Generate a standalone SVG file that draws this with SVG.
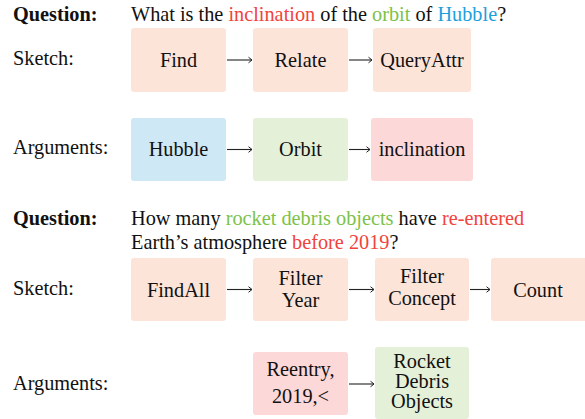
<svg xmlns="http://www.w3.org/2000/svg" width="585" height="419" viewBox="0 0 585 419">
<style>
text{font-family:'Liberation Serif',serif;font-size:20.3px;fill:#111}
.b{font-weight:bold}
.c{text-anchor:middle}
.r{fill:#f1433c}
.g{fill:#7cc24a}
.bl{fill:#1e9fdc}
.o{fill:#fde4d9}
.sky{fill:#cfe8f5}
.grn{fill:#e5f0d9}
.pk{fill:#fcd9d8}
.ln{stroke:#222;stroke-width:1.1;fill:none;marker-end:url(#ah)}
</style>
<defs>
<marker id="ah" markerWidth="8" markerHeight="8" refX="5" refY="4" orient="auto" markerUnits="userSpaceOnUse">
<path d="M1.5,1.2 L5,4 L1.5,6.8" fill="none" stroke="#222" stroke-width="1"/>
</marker>
</defs>
<rect width="585" height="419" fill="#fff"/>
<g id="labels">
<text class="b" x="13" y="21">Question:</text>
<text x="131" y="21">What is the <tspan class="r">inclination</tspan> of the <tspan class="g">orbit</tspan> of <tspan class="bl">Hubble</tspan>?</text>
<text x="13" y="65">Sketch:</text>
<text x="13" y="154">Arguments:</text>
<text class="b" x="13" y="225">Question:</text>
<text x="131" y="225">How many <tspan class="g">rocket debris objects</tspan> have <tspan class="r">re-entered</tspan></text>
<text x="131" y="249">Earth’s atmosphere <tspan class="r">before 2019</tspan>?</text>
<text x="13" y="295">Sketch:</text>
<text x="13" y="390">Arguments:</text>
</g>
<g id="n-find"><rect class="o" x="131" y="28" width="95" height="64" rx="3"/><text class="c" x="178.5" y="67">Find</text></g>
<g id="n-relate"><rect class="o" x="253" y="28" width="95" height="64" rx="3"/><text class="c" x="300.5" y="67">Relate</text></g>
<g id="n-queryattr"><rect class="o" x="373" y="28" width="98" height="64" rx="3"/><text class="c" x="422" y="67">QueryAttr</text></g>
<g id="n-hubble"><rect class="sky" x="131" y="118" width="95" height="63" rx="3"/><text class="c" x="178.5" y="156">Hubble</text></g>
<g id="n-orbit"><rect class="grn" x="253" y="118" width="95" height="63" rx="3"/><text class="c" x="300.5" y="156">Orbit</text></g>
<g id="n-inclination"><rect class="pk" x="371" y="118" width="102" height="63" rx="3"/><text class="c" x="422" y="156">inclination</text></g>
<g id="n-findall"><rect class="o" x="131" y="258" width="95" height="63" rx="3"/><text class="c" x="178.5" y="297">FindAll</text></g>
<g id="n-filteryear"><rect class="o" x="253" y="258" width="95" height="63" rx="3"/><text class="c" x="300.5" y="285">Filter</text><text class="c" x="300.5" y="307">Year</text></g>
<g id="n-filterconcept"><rect class="o" x="375" y="258" width="94" height="63" rx="3"/><text class="c" x="422" y="283">Filter</text><text class="c" x="422" y="305">Concept</text></g>
<g id="n-count"><rect class="o" x="491" y="258" width="96" height="63" rx="3"/><text class="c" x="538" y="297">Count</text></g>
<g id="n-reentry"><rect class="pk" x="253" y="352" width="95" height="63" rx="3"/><text class="c" x="300.5" y="376">Reentry,</text><text class="c" x="300.5" y="403">2019,&lt;</text></g>
<g id="n-rocket"><rect class="grn" x="375" y="347" width="94" height="72" rx="3"/><text class="c" x="422" y="368">Rocket</text><text class="c" x="422" y="388">Debris</text><text class="c" x="422" y="408">Objects</text></g>
<g id="connectors">
<line class="ln" x1="227" y1="60" x2="252" y2="60"/>
<line class="ln" x1="349" y1="60" x2="372" y2="60"/>
<line class="ln" x1="227" y1="149.5" x2="252" y2="149.5"/>
<line class="ln" x1="349" y1="149.5" x2="370" y2="149.5"/>
<line class="ln" x1="227" y1="289.5" x2="252" y2="289.5"/>
<line class="ln" x1="349" y1="289.5" x2="374" y2="289.5"/>
<line class="ln" x1="470" y1="289.5" x2="490" y2="289.5"/>
<line class="ln" x1="349" y1="384" x2="374" y2="384"/>
</g>
</svg>
